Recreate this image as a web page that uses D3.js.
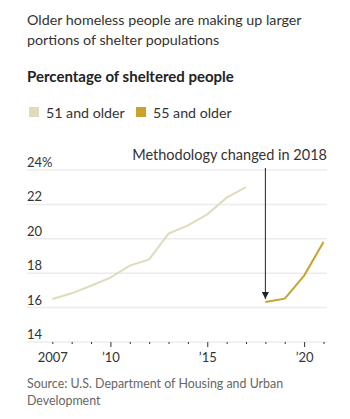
<!DOCTYPE html>
<html>
<head>
<meta charset="utf-8">
<script src="https://cdn.jsdelivr.net/npm/d3@7"></script>
<style>
  body { margin: 0; background: #fff; }
  svg text { font-family: Lato, sans-serif; }
</style>
</head>
<body>
<svg id="chart" width="350" height="419"></svg>
<script>
// data
const years51 = [2007, 2008, 2009, 2010, 2011, 2012, 2013, 2014, 2015, 2016, 2017];
const values51 = [16.5, 16.83, 17.27, 17.74, 18.44, 18.8, 20.3, 20.78, 21.42, 22.39, 23.0];
const years55 = [2018, 2019, 2020, 2021];
const values55 = [16.33, 16.52, 17.86, 19.81];
const yTicks = [14, 16, 18, 20, 22, 24];
const xTickYears = d3.range(2007, 2022);
const xLabels = {2007: "2007", 2010: "\u201910", 2015: "\u201915", 2020: "\u201920"};

const COLOR51 = "#e0dbba";
const COLOR55 = "#c8a42e";

const svg = d3.select("#chart");

/***** SCALES *****/
const xScale = d3.scaleLinear().domain([2007, 2021]).range([52.3, 323.5]);
const yScale = d3.scaleLinear().domain([14, 24]).range([342, 170]);
const gridLeft = 27, gridRight = 327;

/***** TITLE, LEGEND *****/
const header = svg.append("g");
header.selectAll(".title")
    .data(["Older homeless people are making up larger", "portions of shelter populations"])
    .join("text")
    .attr("x", 27)
    .attr("y", (d, i) => 25 + i * 20)
    .attr("font-size", 14.3)
    .attr("fill", "#333")
    .text(d => d);

header.append("text")
    .attr("x", 27).attr("y", 82)
    .attr("font-size", 15).attr("font-weight", "bold")
    .attr("fill", "#222")
    .text("Percentage of sheltered people");

const legend = [{label: "51 and older", color: COLOR51, x: 29}, {label: "55 and older", color: COLOR55, x: 136}];
const lg = header.selectAll(".legend").data(legend).join("g")
    .attr("transform", d => `translate(${d.x}, 107)`);
lg.append("rect").attr("width", 10).attr("height", 10).attr("fill", d => d.color);
lg.append("text").attr("x", 17).attr("y", 10.5)
    .attr("font-size", 14.2).attr("fill", "#333")
    .text(d => d.label);

/***** GRID AND Y LABELS *****/
const grid = svg.append("g");
grid.selectAll(".grid").data(yTicks.filter(d => d !== 14)).join("line")
    .attr("x1", gridLeft).attr("x2", gridRight)
    .attr("y1", d => yScale(d)).attr("y2", d => yScale(d))
    .attr("stroke", "#ececec").attr("stroke-width", 1.5);

grid.selectAll(".ylab").data(yTicks).join("text")
    .attr("x", gridLeft).attr("y", d => yScale(d) - 3)
    .attr("font-size", 13).attr("fill", "#333")
    .text(d => d === 24 ? d + "%" : d);

/***** X AXIS *****/
const xAxis = svg.append("g")
    .attr("transform", `translate(0, ${yScale(14)})`)
    .call(d3.axisBottom(xScale)
        .tickValues(xTickYears)
        .tickSize(2)
        .tickFormat(""));
xAxis.select(".domain")
    .attr("d", `M${gridLeft},0H${gridRight}`)
    .attr("stroke", "#ececec").attr("stroke-width", 1.5);
xAxis.selectAll(".tick line")
    .attr("stroke", "#333")
    .attr("y2", d => (d % 5 === 0) ? 5 : 2);
xAxis.selectAll(".tick").filter(d => xLabels[d])
    .append("text")
    .attr("y", 20)
    .attr("fill", "#333").attr("font-size", 13)
    .attr("text-anchor", "middle")
    .text(d => xLabels[d]);

/***** LINES *****/
const line = d3.line().x(d => xScale(d[0])).y(d => yScale(d[1]));
svg.append("path")
    .datum(d3.zip(years51, values51))
    .attr("d", line)
    .attr("fill", "none").attr("stroke", COLOR51).attr("stroke-width", 2);
svg.append("path")
    .datum(d3.zip(years55, values55))
    .attr("d", line)
    .attr("fill", "none").attr("stroke", COLOR55).attr("stroke-width", 2);

/***** ANNOTATION *****/
svg.append("defs").append("marker")
    .attr("id", "arrow")
    .attr("viewBox", "0 0 10 10")
    .attr("refX", 10).attr("refY", 5)
    .attr("markerWidth", 7).attr("markerHeight", 7)
    .attr("orient", "auto")
    .append("path").attr("d", "M0,0L10,5L0,10Z").attr("fill", "#222");

svg.append("line")
    .attr("x1", xScale(2018)).attr("x2", xScale(2018))
    .attr("y1", 168).attr("y2", yScale(values55[0]) - 3)
    .attr("stroke", "#222").attr("stroke-width", 1)
    .attr("marker-end", "url(#arrow)");

svg.append("text")
    .attr("x", gridRight).attr("y", 160)
    .attr("text-anchor", "end")
    .attr("font-size", 14.5).attr("fill", "#333")
    .text("Methodology changed in 2018");

/***** SOURCE *****/
svg.selectAll(".source")
    .data(["Source: U.S. Department of Housing and Urban", "Development"])
    .join("text")
    .attr("x", 27).attr("y", (d, i) => 388 + i * 17)
    .attr("font-size", 12.4).attr("fill", "#666")
    .text(d => d);
</script>
</body>
</html>
